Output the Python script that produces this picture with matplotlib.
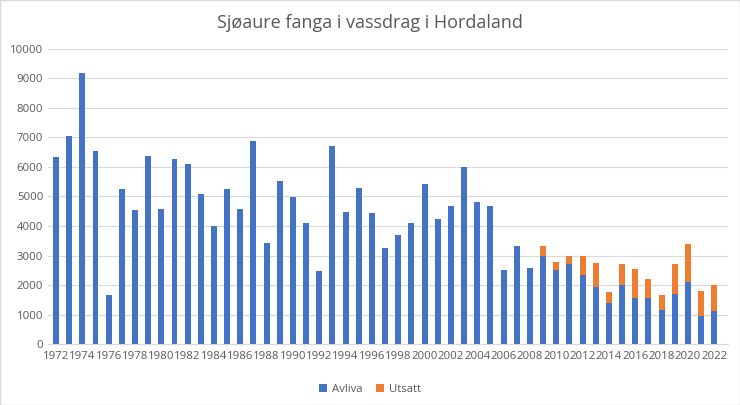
import matplotlib
matplotlib.use("Agg")
import matplotlib.pyplot as plt
import numpy as np

plt.rcParams['font.family'] = ['Open Sans', 'DejaVu Sans']

years = list(range(1972, 2023))
avliva = [6330, 7040, 9190, 6550, 1670, 5240, 4540, 6380, 4560, 6250,
          6080, 5080, 3990, 5240, 4590, 6890, 3440, 5530, 4970, 4100,
          2490, 6720, 4490, 5290, 4440, 3250, 3680, 4100, 5410, 4250,
          4670, 6010, 4820, 4680, 2520, 3320, 2590, 2990, 2510, 2700,
          2350, 1940, 1410, 2010, 1570, 1570, 1160, 1710, 2100, 960, 1140]
utsatt = [0]*37 + [350, 280, 270, 630, 810, 350, 690, 990, 630, 510, 990, 1280, 830, 860]

fig = plt.figure(figsize=(7.4, 4.05), dpi=100)
ax = fig.add_axes([0.065, 0.15, 0.919, 0.73])
x = np.arange(len(years))
ax.bar(x, avliva, width=0.45, color='#4472C4', label='Avliva', zorder=3)
ax.bar(x, utsatt, width=0.45, bottom=avliva, color='#ED7D31', label='Utsatt', zorder=3)

ax.set_ylim(0, 10000)
ax.set_yticks(range(0, 10001, 1000))
ax.set_xlim(-0.6, len(years) + 0.06)
ax.set_xticks(x[::2])
ax.set_xticklabels([str(y) for y in years[::2]])
ax.grid(axis='y', color='#D9D9D9', linewidth=0.8, zorder=0)
for s in ['top', 'right', 'left']:
    ax.spines[s].set_visible(False)
ax.spines['bottom'].set_color('#D9D9D9')
ax.tick_params(axis='both', length=0, labelsize=8.2, labelcolor='#595959')
ax.tick_params(axis='x', pad=5)

fig.suptitle('Sjøaure fanga i vassdrag i Hordaland', y=0.965, fontsize=13, color='#595959')
fig.legend(loc='lower center', ncol=2, frameon=False, fontsize=8.2, labelcolor='#595959',
           bbox_to_anchor=(0.5, 0.0), handlelength=0.7, handleheight=0.7, columnspacing=1.2,
           handletextpad=0.4)

fig.patches.append(plt.Rectangle((0, 0), 1, 1, transform=fig.transFigure, fill=False,
                                 edgecolor='#D9D9D9', linewidth=1))
fig.savefig('out.png', dpi=100)
